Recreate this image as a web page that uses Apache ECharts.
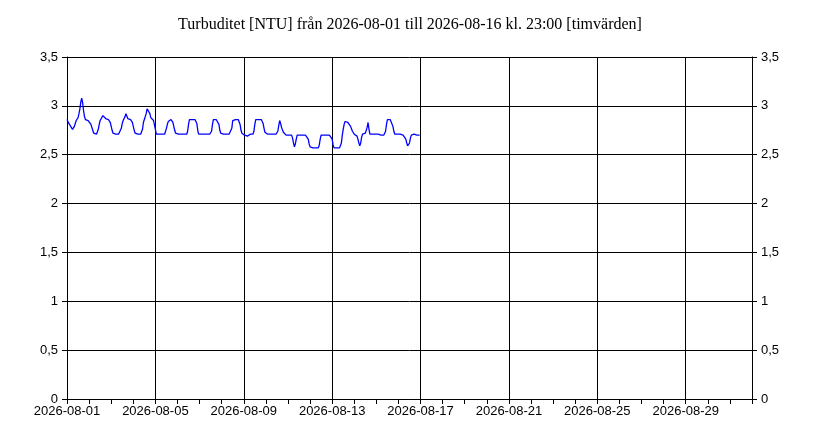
<!DOCTYPE html>
<html>
<head>
<meta charset="utf-8">
<script src="https://cdn.jsdelivr.net/npm/echarts@6/dist/echarts.min.js"></script>
<style>
    html, body { margin: 0; padding: 0; background: #fff; }
    #main { width: 820px; height: 444px; }
</style>
</head>
<body>
<div id="main"></div>
<script>
// timvärden, startar 2026-08-01 00:00, ett värde per timme (en rad = ett dygn)
var startDate = new Date(2026, 7, 1);
var periodHours = 744;
var tickHours = 96;
var yTicks = [0, 0.5, 1, 1.5, 2, 2.5, 3, 3.5];
var turbValues = [
    2.86, 2.84, 2.82, 2.80, 2.79, 2.77, 2.76, 2.77, 2.79, 2.82, 2.85, 2.86, 2.88, 2.92, 2.97, 3.04, 3.08, 3.03, 2.95, 2.89, 2.86, 2.86, 2.86, 2.85,
    2.85, 2.84, 2.81, 2.78, 2.75, 2.72, 2.71, 2.71, 2.71, 2.72, 2.76, 2.81, 2.85, 2.86, 2.87, 2.90, 2.91, 2.88, 2.87, 2.86, 2.86, 2.86, 2.86, 2.83,
    2.79, 2.75, 2.72, 2.71, 2.71, 2.71, 2.71, 2.71, 2.71, 2.71, 2.73, 2.77, 2.82, 2.85, 2.86, 2.89, 2.92, 2.90, 2.87, 2.86, 2.86, 2.86, 2.86, 2.83,
    2.79, 2.75, 2.72, 2.71, 2.71, 2.71, 2.71, 2.71, 2.71, 2.71, 2.76, 2.83, 2.86, 2.89, 2.92, 2.97, 2.99, 2.96, 2.92, 2.88, 2.86, 2.86, 2.85, 2.84,
    2.76, 2.71, 2.71, 2.71, 2.71, 2.71, 2.71, 2.71, 2.71, 2.71, 2.71, 2.73, 2.77, 2.81, 2.84, 2.86, 2.86, 2.86, 2.85, 2.83, 2.79, 2.75, 2.72, 2.71,
    2.71, 2.71, 2.71, 2.71, 2.71, 2.71, 2.71, 2.71, 2.71, 2.71, 2.71, 2.74, 2.81, 2.86, 2.86, 2.86, 2.86, 2.86, 2.86, 2.86, 2.86, 2.82, 2.75, 2.71,
    2.71, 2.71, 2.71, 2.71, 2.71, 2.71, 2.71, 2.71, 2.71, 2.71, 2.71, 2.71, 2.71, 2.74, 2.81, 2.86, 2.86, 2.86, 2.86, 2.86, 2.86, 2.81, 2.75, 2.72,
    2.71, 2.71, 2.71, 2.71, 2.71, 2.71, 2.71, 2.71, 2.71, 2.71, 2.71, 2.77, 2.85, 2.86, 2.86, 2.86, 2.86, 2.86, 2.86, 2.86, 2.81, 2.75, 2.72, 2.71,
    2.71, 2.70, 2.69, 2.69, 2.69, 2.69, 2.70, 2.71, 2.71, 2.71, 2.71, 2.74, 2.81, 2.86, 2.86, 2.86, 2.86, 2.86, 2.86, 2.86, 2.86, 2.82, 2.77, 2.73,
    2.71, 2.71, 2.71, 2.71, 2.71, 2.71, 2.71, 2.71, 2.71, 2.71, 2.71, 2.71, 2.71, 2.74, 2.80, 2.85, 2.82, 2.78, 2.76, 2.73, 2.71, 2.71, 2.70, 2.70,
    2.70, 2.70, 2.70, 2.70, 2.70, 2.67, 2.62, 2.58, 2.61, 2.66, 2.70, 2.70, 2.70, 2.70, 2.70, 2.70, 2.70, 2.70, 2.70, 2.70, 2.70, 2.70, 2.66, 2.61,
    2.58, 2.57, 2.57, 2.57, 2.57, 2.57, 2.57, 2.57, 2.57, 2.57, 2.60, 2.66, 2.70, 2.70, 2.70, 2.70, 2.70, 2.70, 2.70, 2.70, 2.70, 2.70, 2.70, 2.70,
    2.66, 2.60, 2.57, 2.57, 2.57, 2.57, 2.57, 2.57, 2.57, 2.57, 2.62, 2.70, 2.76, 2.81, 2.84, 2.84, 2.84, 2.83, 2.83, 2.81, 2.79, 2.77, 2.74, 2.72,
    2.71, 2.70, 2.70, 2.69, 2.66, 2.62, 2.59, 2.62, 2.68, 2.71, 2.71, 2.71, 2.72, 2.73, 2.78, 2.83, 2.76, 2.71, 2.71, 2.71, 2.71, 2.71, 2.71, 2.71,
    2.71, 2.71, 2.71, 2.71, 2.71, 2.70, 2.70, 2.70, 2.70, 2.71, 2.74, 2.81, 2.86, 2.86, 2.86, 2.86, 2.86, 2.84, 2.79, 2.74, 2.71, 2.71, 2.71, 2.71,
    2.71, 2.71, 2.71, 2.70, 2.70, 2.70, 2.70, 2.69, 2.66, 2.62, 2.59, 2.58, 2.62, 2.67, 2.70, 2.70, 2.71, 2.71, 2.70, 2.70, 2.70, 2.70, 2.70, 2.70
];

function pad(n) {
    return n < 10 ? '0' + n : '' + n;
}

function hourToDate(h) {
    var d = new Date(startDate.getTime() + h * 3600 * 1000);
    return d.getFullYear() + '-' + pad(d.getMonth() + 1) + '-' + pad(d.getDate());
}

function commaNum(v) {
    return String(v).replace('.', ',');
}

var seriesData = [];
for (var i = 0; i < turbValues.length; i++) {
    seriesData.push([i, turbValues[i]]);
}

function makeYAxis(pos, showGrid) {
    return {
        type: 'value',
        position: pos,
        min: yTicks[0],
        max: yTicks[yTicks.length - 1],
        interval: 0.5,
        axisLine: { show: true, lineStyle: { color: '#000', width: 1 } },
        axisTick: { show: true, length: 5, lineStyle: { color: '#000' } },
        splitLine: { show: showGrid, lineStyle: { color: '#000', width: 1 } },
        axisLabel: {
            color: '#000',
            fontFamily: 'Liberation Sans, Arial, sans-serif',
            fontSize: 13,
            margin: 9,
            formatter: commaNum
        }
    };
}

var myChart = echarts.init(document.getElementById('main'));

var option = {
    animation: false,
    backgroundColor: '#fff',
    title: {
        text: 'Turbuditet [NTU] från 2026-08-01 till 2026-08-16 kl. 23:00 [timvärden]',
        left: 'center',
        top: 12,
        textStyle: {
            fontFamily: 'Liberation Serif, Times New Roman, serif',
            fontSize: 16,
            fontWeight: 'normal',
            color: '#000'
        }
    },
    grid: {
        left: 67,
        right: 68,
        top: 57,
        bottom: 45
    },
    xAxis: {
        type: 'value',
        min: 0,
        max: periodHours,
        interval: tickHours,
        axisLine: { show: true, onZero: false, lineStyle: { color: '#000', width: 1 } },
        axisTick: { show: true, length: 5, lineStyle: { color: '#000' } },
        minorTick: { show: true, splitNumber: 4, length: 5, lineStyle: { color: '#000' } },
        splitLine: { show: true, lineStyle: { color: '#000', width: 1 } },
        axisLabel: {
            color: '#000',
            fontFamily: 'Liberation Sans, Arial, sans-serif',
            fontSize: 13,
            margin: 6,
            showMaxLabel: false,
            formatter: hourToDate
        }
    },
    yAxis: [
        makeYAxis('left', true),
        makeYAxis('right', false)
    ],
    series: [
        {
            name: 'Turbuditet',
            type: 'line',
            data: seriesData,
            showSymbol: false,
            symbol: 'none',
            lineStyle: { color: '#0000ff', width: 1.3 },
            yAxisIndex: 0
        }
    ]
};
myChart.setOption(option, true);
</script>
</body>
</html>
